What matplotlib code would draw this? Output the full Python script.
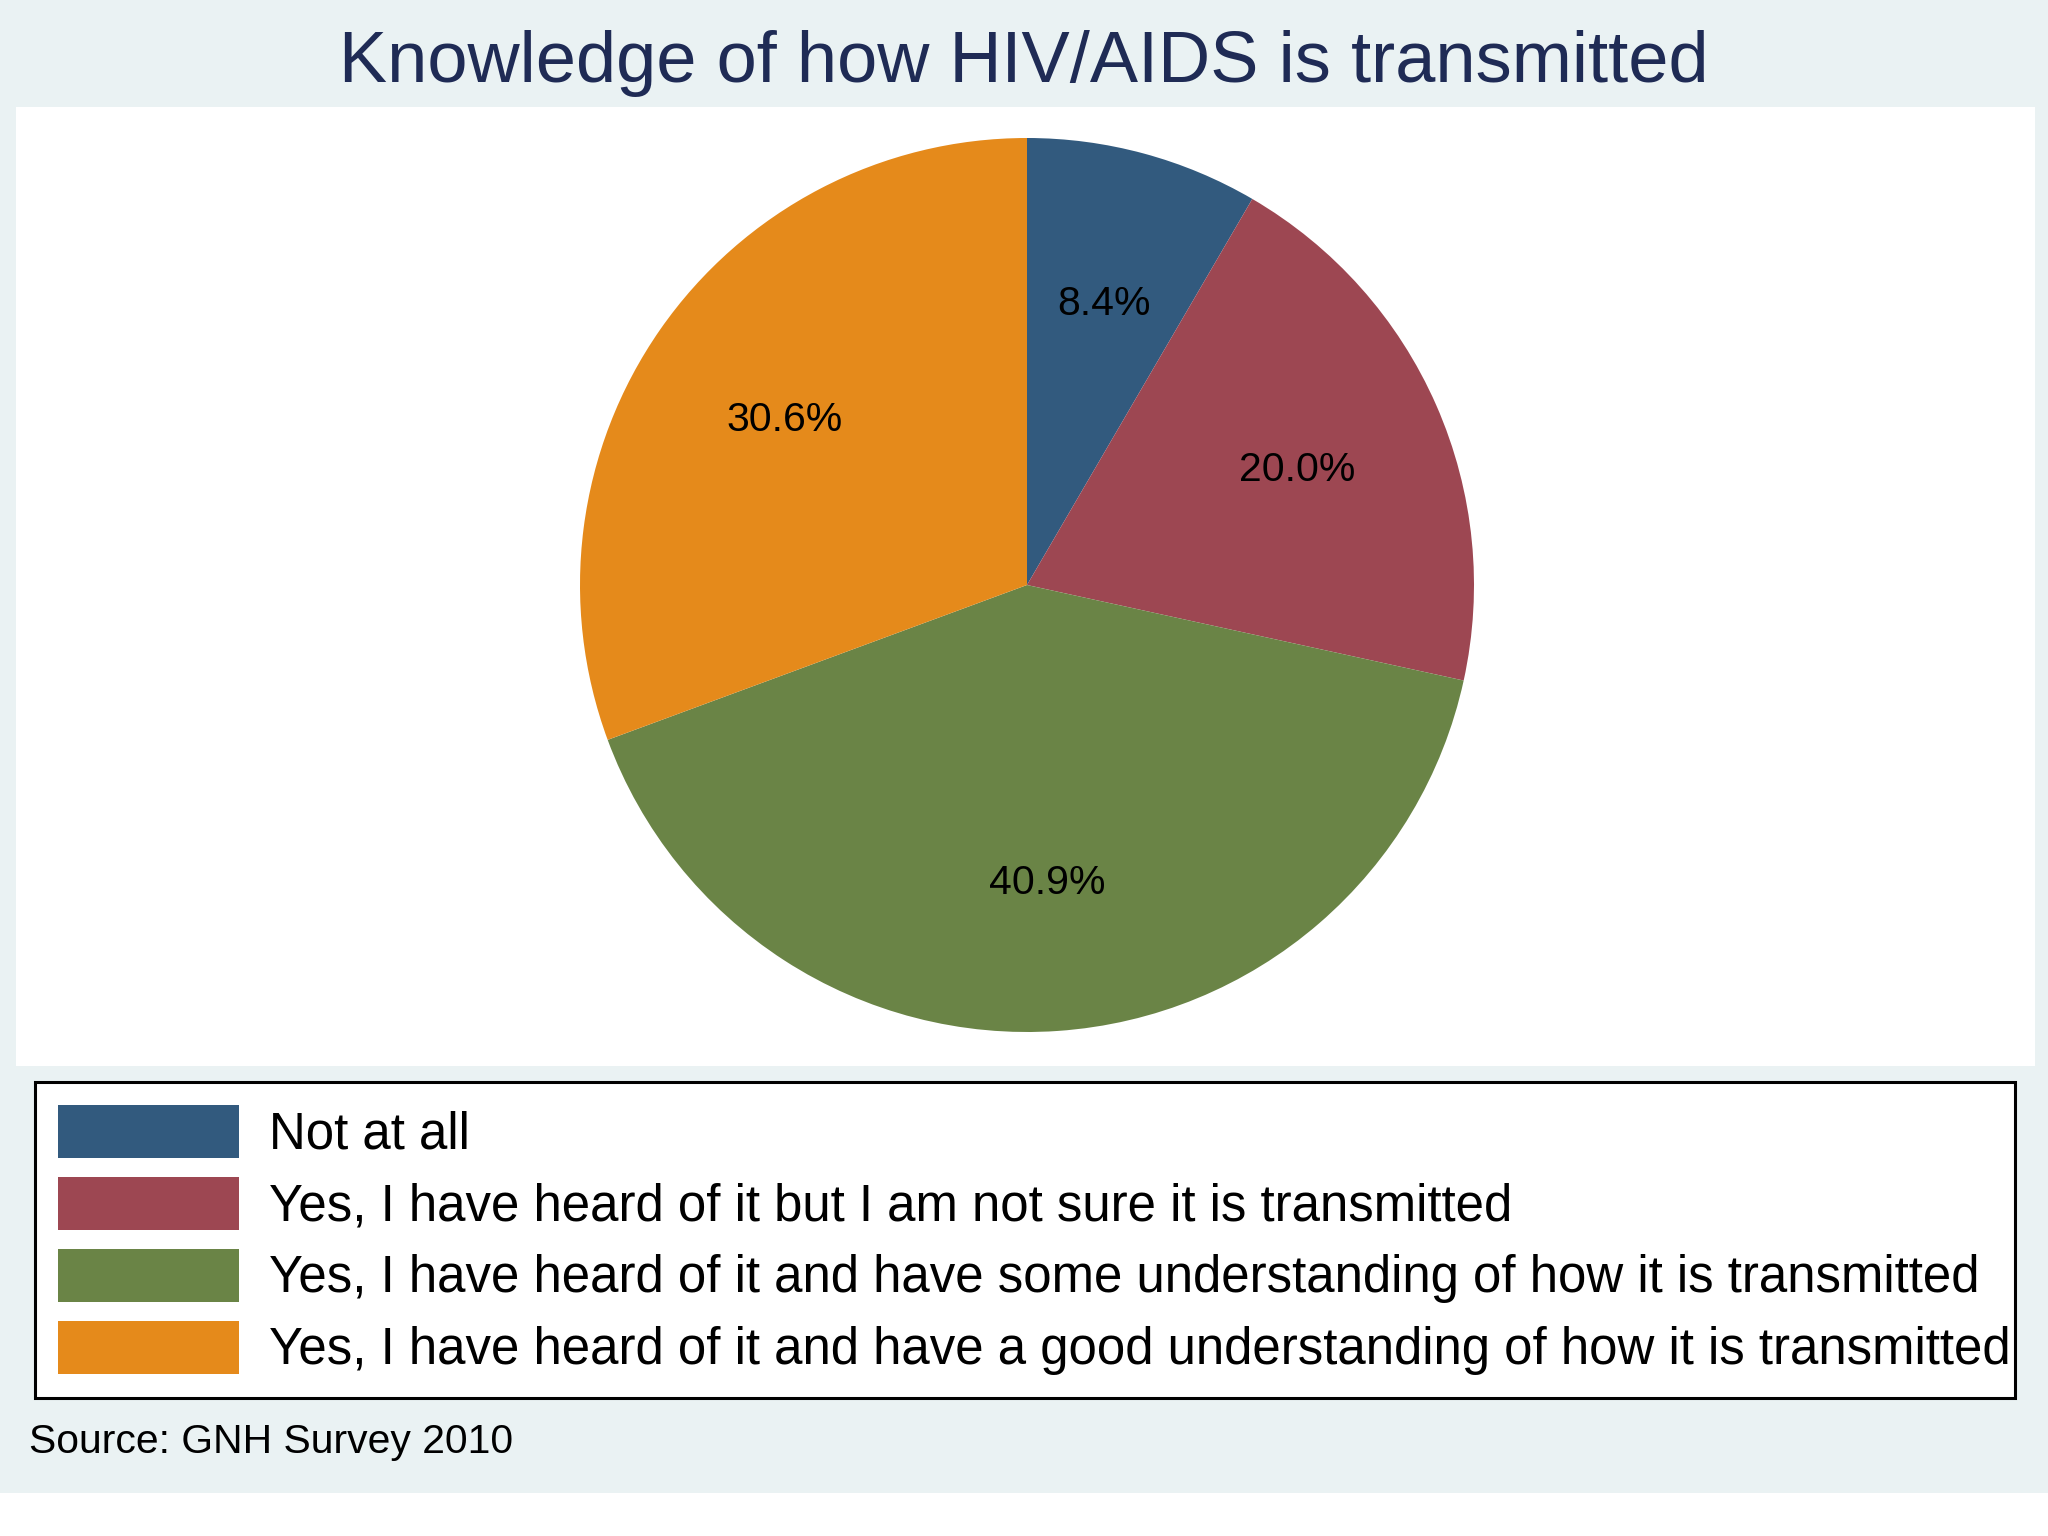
import matplotlib
matplotlib.use("Agg")
import matplotlib.pyplot as plt
from matplotlib.patches import Rectangle

plt.rcParams['font.family'] = ['Liberation Sans', 'DejaVu Sans']

# data
categories = [
    "Not at all",
    "Yes, I have heard of it but I am not sure it is transmitted",
    "Yes, I have heard of it and have some understanding of how it is transmitted",
    "Yes, I have heard of it and have a good understanding of how it is transmitted",
]
shares = [8.4, 20.0, 40.9, 30.6]
colors = ["#325A7E", "#9D4752", "#6A8446", "#E58A1B"]
title = "Knowledge of how HIV/AIDS is transmitted"
source = "Source: GNH Survey 2010"

W, H = 2048, 1536
fig = plt.figure(figsize=(W / 100, H / 100), dpi=100, facecolor="white")


def fx(px):
    return px / W


def fy(py):
    # pixel from top -> figure fraction from bottom
    return 1 - py / H


# outer background (white strip left at the bottom)
fig.patches.append(Rectangle((0, fy(1493)), 1, 1 - fy(1493), transform=fig.transFigure,
                             facecolor="#EAF2F3", edgecolor="none", zorder=-2))
# plot region
fig.patches.append(Rectangle((fx(16), fy(1066)), fx(2035 - 16), (1066 - 107) / H,
                             transform=fig.transFigure, facecolor="white",
                             edgecolor="none", zorder=-1))

fig.text(0.5, fy(82), title, ha="center", va="baseline", fontsize=52, color="#1F2B55")

# pie
cx, cy, r = 1027, 585, 447
ax = fig.add_axes([fx(cx - r), fy(cy + r), fx(2 * r), 2 * r / H])
wedges, texts = ax.pie(shares, colors=colors, startangle=90, counterclock=False,
                       labels=[f"{v:.1f}%" for v in shares], labeldistance=0.66,
                       textprops=dict(fontsize=29.5, color="black", ha="center",
                                      va="center_baseline"),
                       wedgeprops=dict(linewidth=0))
ax.set_xlim(-1, 1)
ax.set_ylim(-1, 1)
ax.set_aspect("auto")
ax.axis("off")

# legend
leg = fig.legend(wedges, categories, loc="upper left",
                 bbox_to_anchor=(fx(35), fy(1397), fx(2015 - 35), (1397 - 1082) / H),
                 mode="expand", borderaxespad=0, fontsize=36.7, frameon=True, fancybox=False,
                 handlelength=3.55, handleheight=1.22, handletextpad=0.6,
                 labelspacing=0.34, borderpad=0.45, framealpha=1)
leg.get_frame().set_facecolor("white")
leg.get_frame().set_edgecolor("black")
leg.get_frame().set_linewidth(2.2)

fig.text(fx(29), fy(1453), source, ha="left", va="baseline", fontsize=29.4, color="black")

fig.savefig("out.png", dpi=100, facecolor=fig.get_facecolor())
